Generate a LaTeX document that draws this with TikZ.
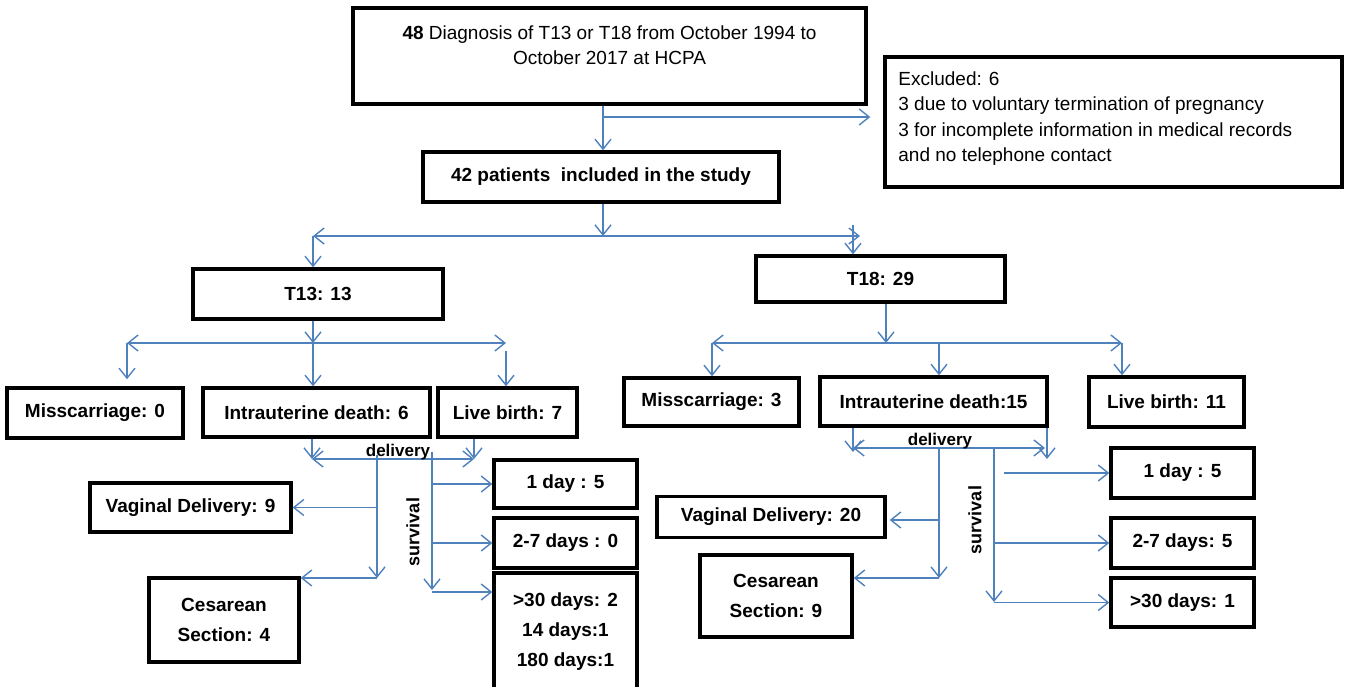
\documentclass[tikz,border=0pt]{standalone}
\usepackage{fontspec}
\setmainfont{Liberation Sans}
\usepackage{tikz}
\usetikzlibrary{positioning, arrows.meta}
\definecolor{linkblue}{RGB}{79,129,189}

\begin{document}
\begin{tikzpicture}[
    x=0.5pt, y=-0.5pt,
    every node/.style={align=center, font=\fontsize{9.5}{12.5}\selectfont},
    box/.style={rectangle, draw, line width=1.7pt, inner sep=0pt, font=\fontsize{9.5}{15}\selectfont\bfseries},
    lbl/.style={inner sep=0pt, font=\fontsize{8.5}{10}\selectfont\bfseries},
    link/.style={draw=linkblue, line width=0.7pt},
    >={Straight Barb[length=5pt,width=8pt]}
]
\useasboundingbox (0,0) rectangle (1347,686);
\clip (0,0) rectangle (1347,686);

% top of the chart
\node[box, minimum width=256.5pt, minimum height=48pt] (diag) at (609.5,56) {};
\node[anchor=north, inner sep=0pt] (diag-txt) at (609.5,25) {\textbf{48} Diagnosis of T13 or T18 from October 1994 to\\October 2017 at HCPA};
\node[box, minimum width=228.5pt, minimum height=65pt] (excl) at (1113.5,122) {};
\node[anchor=north west, align=left, inner sep=0pt, font=\fontsize{9.5}{12.75}\selectfont] (excl-txt) at (898,71) {Excluded: 6\\3 due to voluntary termination of pregnancy\\3 for incomplete information in medical records\\and no telephone contact};
\node[box, minimum width=178pt, minimum height=25pt] (incl) at (601,177) {42 patients~ included in the study};

% groups
\node[box, minimum width=125pt, minimum height=25pt] (t13) at (318,294) {T13: 13};
\node[box, minimum width=124.5pt, minimum height=23pt] (t18) at (880.5,279) {T18: 29};

% outcomes
\node[box, minimum width=88pt, minimum height=25pt] (mc0) at (95,413) {Misscarriage: 0};
\node[box, minimum width=113.5pt, minimum height=24.5pt] (id6) at (316.5,412.5) {Intrauterine death: 6};
\node[box, minimum width=69.5pt, minimum height=24.5pt] (lb7) at (507.5,412.5) {Live birth: 7};
\node[box, minimum width=87.5pt, minimum height=24pt] (mc3) at (711.5,402) {Misscarriage: 3};
\node[box, minimum width=113.5pt, minimum height=24.5pt] (id15) at (933.5,401.5) {Intrauterine death:15};
\node[box, minimum width=77.5pt, minimum height=25pt] (lb11) at (1166.5,402) {Live birth: 11};

% delivery and survival
\node[box, minimum width=100.5pt, minimum height=24.5pt] (vd9) at (190.5,507.5) {Vaginal Delivery: 9};
\node[box, minimum width=75pt, minimum height=42pt] (cs4) at (224,620) {Cesarean\\Section: 4};
\node[box, minimum width=71.5pt, minimum height=24pt] (d1) at (565.5,484) {1 day : 5};
\node[box, minimum width=71.5pt, minimum height=25pt] (d7) at (565.5,543) {2-7 days : 0};
\node[box, minimum width=71.5pt, minimum height=58.5pt] (d30) at (565.5,631.5) {>30 days: 2\\14 days:1\\180 days:1};
\node[box, minimum width=114pt, minimum height=20.5pt] (vd20) at (771,517) {Vaginal Delivery: 20};
\node[box, minimum width=76pt, minimum height=41pt] (cs9) at (776,596) {Cesarean\\Section: 9};
\node[box, minimum width=71.5pt, minimum height=25pt] (rd1) at (1182.5,473) {1 day : 5};
\node[box, minimum width=71.5pt, minimum height=25pt] (rd7) at (1182.5,543) {2-7 days: 5};
\node[box, minimum width=71.5pt, minimum height=24.5pt] (rd30) at (1182.5,602.5) {>30 days: 1};

% top arrows
\coordinate (ex) at (603,117);
\draw[link,->] (diag.south -| ex) -- (incl.north -| ex);
\draw[link,->] (ex) -- ([xshift=-6.5pt]excl.west |- ex);
\coordinate (g) at (603,236);
\coordinate (gl) at (313,236);
\coordinate (gr) at (860,236);
\coordinate (gt18) at (853,225);
\draw[link,->] (incl.south -| g) -- (g);
\draw[link,<->] (gl) -- (gr);
\draw[link,->] (gl) -- (t13.north -| gl);
\draw[link,->] (gt18) -- (t18.north -| gt18);

% T13 split
\coordinate (a) at (313,343);
\coordinate (al) at (127,343);
\coordinate (ar) at (506,343);
\draw[link,->] (t13.south -| a) -- (a);
\draw[link,<->] (al) -- (ar);
\draw[link,->] (a) -- (id6.north -| a);
\draw[link,->,shorten >=3.5pt] (al) -- (mc0.north -| al);
\draw[link,->] ([yshift=-4pt]ar) -- (lb7.north -| ar);

% T18 split
\coordinate (b) at (886,343);
\coordinate (bl) at (712,343);
\coordinate (bm) at (939,343);
\coordinate (br) at (1122,343);
\draw[link,->] (t18.south -| b) -- (b);
\draw[link,<->] (bl) -- (br);
\draw[link,->] (bl) -- (mc3.north -| bl);
\draw[link,->] (bm) -- (id15.north -| bm);
\draw[link,->] (br) -- (lb11.north -| br);

% T13 delivery / survival
\coordinate (dl) at (312,459);
\coordinate (dr) at (474,459);
\draw[link,->] (id6.south -| dl) -- (dl);
\draw[link,->] (lb7.south -| dr) -- (dr);
\draw[link,<->] (dl) -- (dr);
\node[lbl] (deliv1) at (398,452) {delivery};
\coordinate (dv) at (377,455);
\coordinate (dvend) at (377,578);
\draw[link,->] (dv) -- (dvend);
\draw[link,->] (vd9.east -| dv) -- (vd9.east);
\draw[link,->] (dvend) -- (cs4.north east |- dvend);
\coordinate (sv) at (432,452);
\coordinate (svend) at (432,590);
\coordinate (s30) at (432,592);
\draw[link,->] (sv) -- (svend);
\draw[link,->] (d1.west -| sv) -- (d1.west);
\draw[link,->] (d7.west -| sv) -- (d7.west);
\draw[link,->] (s30) -- (d30.west |- s30);
\node[lbl, rotate=90, font=\fontsize{9}{10}\selectfont\bfseries] (surv1) at (413,532) {survival};

% T18 delivery / survival
\coordinate (el) at (853,448);
\coordinate (er) at (1045,448);
\coordinate (eri) at (1047,459);
\draw[link,->] (id15.south -| el) -- ([yshift=-2pt]el);
\draw[link,->] (id15.south -| eri) -- (eri);
\draw[link,<->] (el) -- (er);
\node[lbl] (deliv2) at (940,441) {delivery};
\coordinate (ev) at (939,448);
\coordinate (ev1) at (939,520);
\coordinate (evend) at (939,578);
\draw[link,->] (ev) -- (evend);
\draw[link,->,shorten >=1.5pt] (ev1) -- (vd20.east |- ev1);
\draw[link,->] (evend) -- (cs9.east |- evend);
\coordinate (tv) at (994,448);
\coordinate (tvend) at (994,602);
\coordinate (tv1) at (1004,473);
\draw[link,->] (tv) -- (tvend);
\draw[link,->] (tv1) -- (rd1.west);
\draw[link,->] (rd7.west -| tv) -- (rd7.west);
\draw[link,->] (rd30.west -| tv) -- (rd30.west);
\node[lbl, rotate=90, font=\fontsize{9}{10}\selectfont\bfseries] (surv2) at (975,520) {survival};

\end{tikzpicture}
\end{document}
